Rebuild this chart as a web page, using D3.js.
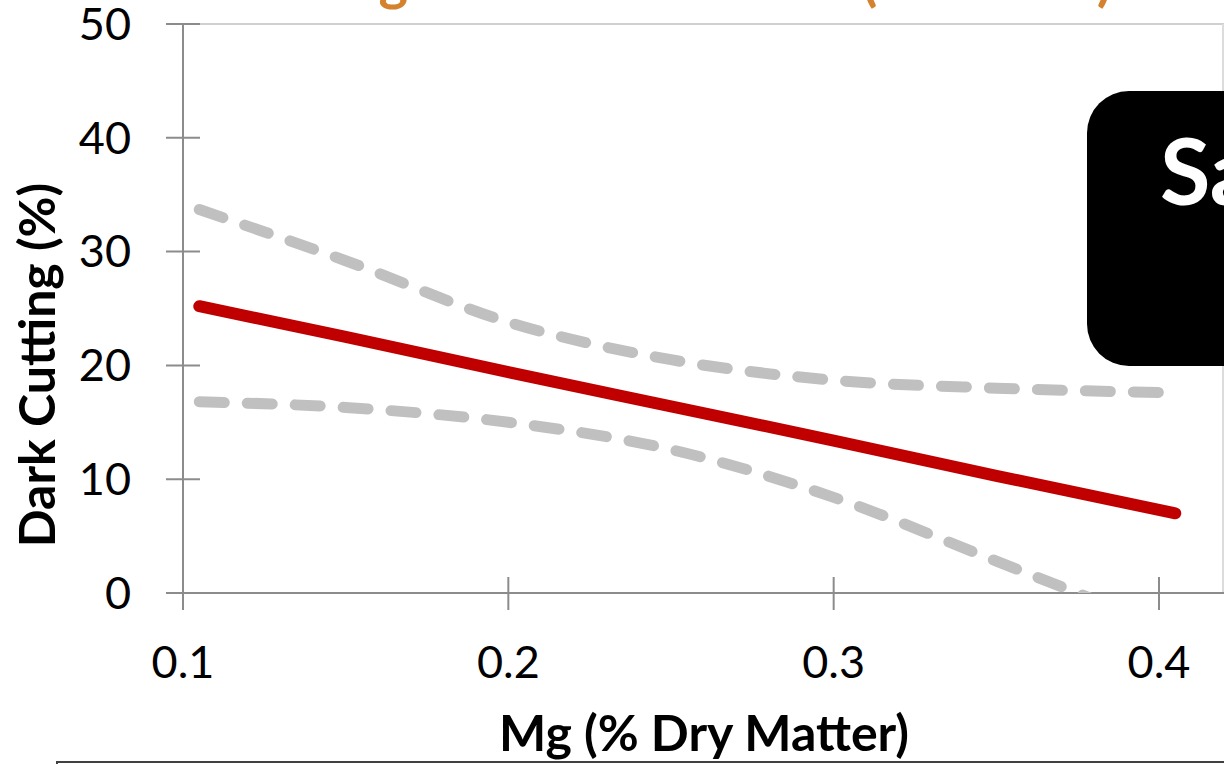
<!DOCTYPE html>
<html>
<head>
<meta charset="utf-8">
<script src="https://cdn.jsdelivr.net/npm/d3@7"></script>
<style>
  html, body { margin: 0; padding: 0; background: #fff; }
  svg { display: block; font-family: Lato, "Open Sans", sans-serif; }
</style>
</head>
<body>
<div id="chart"></div>
<script>
(function () {

  // ---- data ----
  var xTicks = [0.1, 0.2, 0.3, 0.4];
  var yTicks = [0, 10, 20, 30, 40, 50];

  // Mg levels where the curves were sampled
  var mgLevels = [0.105, 0.15, 0.2, 0.25, 0.3, 0.35, 0.405];
  // fitted dark cutting (%)
  var fitted   = [25.2, 22.5, 19.4, 16.4, 13.4, 10.3, 7.0];
  // confidence band
  var upperCI  = [33.7, 29.2, 23.8, 20.5, 18.7, 18.0, 17.6];
  var lowerCI  = [16.8, 16.3, 15.0, 12.6, 8.4, 2.8, -3.4];

  var titleText = ["Water Mg", "Concentrations", "(Feedlot)"];
  var boxText = "Sa";

  var width = 1224, height = 764;

  var svg = d3.select("#chart").append("svg")
    .attr("width", width)
    .attr("height", height);

  // plot area
  var x = d3.scaleLinear().domain([0.1, 0.4]).range([183, 1159]);
  var y = d3.scaleLinear().domain([0, 50]).range([593, 24]);

  var axisColor = "#8c8c8c";
  var titleColor = "#d5822f";

  // title, mostly cut off at the top edge (only descenders show)
  function titlePart(txt, xPos, anchor) {
    return svg.append("text")
      .attr("x", xPos).attr("y", 0)
      .attr("text-anchor", anchor)
      .attr("fill", titleColor)
      .style("font-size", "56px")
      .style("font-weight", "bold")
      .text(txt);
  }
  titlePart(titleText[0], 408, "end");
  titlePart(titleText[1], 850, "end");
  titlePart(titleText[2], 862, "start")
    .attr("textLength", 250)
    .attr("lengthAdjust", "spacing");

  // light frame on top and right
  svg.append("line")
    .attr("x1", 183).attr("x2", width)
    .attr("y1", y(50)).attr("y2", y(50))
    .attr("stroke", "#d0d0d0").attr("stroke-width", 2);
  svg.append("line")
    .attr("x1", 1223).attr("x2", 1223)
    .attr("y1", y(50)).attr("y2", y(0))
    .attr("stroke", "#dcdcdc").attr("stroke-width", 2);

  // x axis line
  svg.append("line")
    .attr("x1", 166).attr("x2", width)
    .attr("y1", y(0)).attr("y2", y(0))
    .attr("stroke", axisColor).attr("stroke-width", 2);
  // y axis line
  svg.append("line")
    .attr("x1", x(0.1)).attr("x2", x(0.1))
    .attr("y1", y(50)).attr("y2", y(0) + 17)
    .attr("stroke", axisColor).attr("stroke-width", 2);

  // y ticks + labels
  var yg = svg.append("g");
  yg.selectAll("line").data(yTicks).enter().append("line")
    .attr("x1", x(0.1) - 17).attr("x2", x(0.1) + 17)
    .attr("y1", function (d) { return y(d); })
    .attr("y2", function (d) { return y(d); })
    .attr("stroke", axisColor).attr("stroke-width", 2);
  yg.selectAll("text").data(yTicks).enter().append("text")
    .attr("x", 131)
    .attr("y", function (d) { return y(d); })
    .attr("dy", "0.35em")
    .attr("text-anchor", "end")
    .style("font-size", "45px")
    .attr("fill", "#000")
    .text(function (d) { return d; });

  // x ticks + labels
  var xg = svg.append("g");
  xg.selectAll("line").data(xTicks.slice(1)).enter().append("line")
    .attr("x1", function (d) { return x(d); })
    .attr("x2", function (d) { return x(d); })
    .attr("y1", y(0) - 16).attr("y2", y(0) + 17)
    .attr("stroke", axisColor).attr("stroke-width", 2);
  xg.selectAll("text").data(xTicks).enter().append("text")
    .attr("x", function (d) { return x(d); })
    .attr("y", 662)
    .attr("dy", "0.35em")
    .attr("text-anchor", "middle")
    .style("font-size", "45px")
    .attr("fill", "#000")
    .text(function (d) { return d.toFixed(1); });

  // axis titles
  svg.append("text")
    .attr("x", 704).attr("y", 751)
    .attr("text-anchor", "middle")
    .style("font-size", "50px")
    .style("font-weight", "bold")
    .text("Mg (% Dry Matter)");
  svg.append("text")
    .attr("transform", "translate(55,365) rotate(-90)")
    .attr("text-anchor", "middle")
    .style("font-size", "50px")
    .style("font-weight", "bold")
    .text("Dark Cutting (%)");

  // curves, clipped to the plot area
  svg.append("clipPath").attr("id", "plotClip")
    .append("rect")
    .attr("x", x(0.1)).attr("y", y(50))
    .attr("width", width - x(0.1)).attr("height", y(0) - y(50));

  var plot = svg.append("g").attr("clip-path", "url(#plotClip)");

  function curve(vals) {
    return d3.line()
      .x(function (d, i) { return x(mgLevels[i]); })
      .y(function (d) { return y(d); })
      .curve(d3.curveMonotoneX)(vals);
  }

  [upperCI, lowerCI].forEach(function (vals) {
    plot.append("path")
      .attr("d", curve(vals))
      .attr("fill", "none")
      .attr("stroke", "#c0c0c0")
      .attr("stroke-width", 11)
      .attr("stroke-linecap", "round")
      .attr("stroke-dasharray", "25,23");
  });

  plot.append("path")
    .attr("d", curve(fitted))
    .attr("fill", "none")
    .attr("stroke", "#c00000")
    .attr("stroke-width", 12)
    .attr("stroke-linecap", "round");

  // black callout box on the right
  svg.append("rect")
    .attr("x", 1087).attr("y", 91)
    .attr("width", 200).attr("height", 275)
    .attr("rx", 42).attr("ry", 42)
    .attr("fill", "#000");
  svg.append("text")
    .attr("x", 1160).attr("y", 205)
    .attr("fill", "#fff")
    .style("font-size", "92px")
    .style("font-weight", "bold")
    .text(boxText);

  // dark rule along the bottom edge
  svg.append("path")
    .attr("d", "M57,770 L57,762 L" + width + ",762")
    .attr("fill", "none")
    .attr("stroke", "#404040")
    .attr("stroke-width", 2);

})();
</script>
</body>
</html>
